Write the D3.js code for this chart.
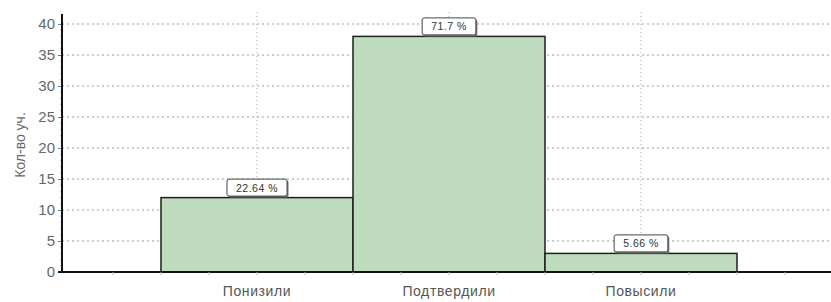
<!DOCTYPE html>
<html><head><meta charset="utf-8">
<script src="https://cdn.jsdelivr.net/npm/d3@7/dist/d3.min.js"></script>
<style>body{margin:0;background:#fff}svg{display:block}text{font-family:"Liberation Sans",Arial,sans-serif}</style>
</head><body><svg id="c" width="831" height="302"></svg>
<script>
const categories = ["Понизили", "Подтвердили", "Повысили"];
const counts = [12, 38, 3];
const percentLabels = ["22.64 %", "71.7 %", "5.66 %"];
const yTicks = [0, 5, 10, 15, 20, 25, 30, 35, 40];

const svg = d3.select("#c");
const x0 = 62, y0 = 272;
const x = d3.scaleLinear().domain([0, 4]).range([65, 833]);
const y = d3.scaleLinear().domain([0, 40]).range([y0, 24]);

// grid
svg.append("g").selectAll("line").data(yTicks.filter(d => d > 0)).join("line")
  .attr("x1", x0).attr("x2", 831).attr("y1", d => y(d)).attr("y2", d => y(d))
  .attr("stroke", "#9a9a9a").attr("stroke-dasharray", "2,3").attr("stroke-width", 1);
svg.append("g").selectAll("line").data(categories).join("line")
  .attr("x1", (d, i) => x(i + 1)).attr("x2", (d, i) => x(i + 1))
  .attr("y1", 12).attr("y2", y0)
  .attr("stroke", "#aaa").attr("stroke-dasharray", "1,3").attr("stroke-width", 1);

// bars
svg.append("g").selectAll("rect").data(counts).join("rect")
  .attr("x", (d, i) => x(i + 0.5)).attr("width", x(1) - x(0))
  .attr("y", d => y(d)).attr("height", d => y0 - y(d))
  .attr("fill", "#bedbbd").attr("stroke", "#1e1e1e").attr("stroke-width", 1.5);

// y axis
const yAxis = svg.append("g").attr("transform", `translate(${x0},0)`)
  .call(d3.axisLeft(y).tickValues(yTicks).tickSize(4).tickPadding(3));
yAxis.select(".domain").remove();
yAxis.selectAll("line").attr("stroke", "#777");
yAxis.selectAll("text").attr("fill", "#666").style("font-size", "15px");
// minor y ticks
svg.append("g").selectAll("line").data(d3.range(1, 40).filter(v => v % 5)).join("line")
  .attr("x1", x0 - 2).attr("x2", x0).attr("y1", d => y(d)).attr("y2", d => y(d))
  .attr("stroke", "#bbb");

svg.append("line").attr("x1", x0).attr("x2", x0).attr("y1", 14).attr("y2", y0 + 1)
  .attr("stroke", "#111").attr("stroke-width", 2);
svg.append("line").attr("x1", x0 - 4).attr("x2", 831).attr("y1", y0).attr("y2", y0)
  .attr("stroke", "#111").attr("stroke-width", 2);

// x minor ticks
svg.append("g").selectAll("line").data(d3.range(0.25, 4, 0.25)).join("line")
  .attr("x1", d => x(d)).attr("x2", d => x(d)).attr("y1", y0).attr("y2", y0 + 3)
  .attr("stroke", "#bbb");

// category labels
svg.append("g").selectAll("text").data(categories).join("text")
  .attr("x", (d, i) => x(i + 1)).attr("y", 296).attr("text-anchor", "middle")
  .attr("fill", "#555").style("font-size", "14px").style("letter-spacing", "0.6px").text(d => d);

// y label
svg.append("text").attr("transform", "translate(25,145) rotate(-90)")
  .attr("text-anchor", "middle").attr("fill", "#666").style("font-size", "14px").text("Кол-во уч.");

// value labels
const lab = svg.append("g").selectAll("g").data(counts).join("g")
  .attr("transform", (d, i) => `translate(${x(i + 1)},${y(d) - 10})`);
lab.each(function(d, i) {
  const g = d3.select(this);
  const t = g.append("text").attr("text-anchor", "middle").attr("y", 4)
    .attr("fill", "#333").style("font-size", "10.5px").style("letter-spacing", "0.5px").text(percentLabels[i]);
  const w = t.node().getComputedTextLength() + 18;
  g.insert("rect", "text").attr("x", -w / 2 + 1.5).attr("y", -7).attr("width", w).attr("height", 17)
    .attr("rx", 2).attr("fill", "#777");
  g.insert("rect", "text").attr("x", -w / 2).attr("y", -8.5).attr("width", w).attr("height", 17)
    .attr("rx", 2).attr("fill", "#fff").attr("stroke", "#444").attr("stroke-width", 1);
});
</script></body></html>
